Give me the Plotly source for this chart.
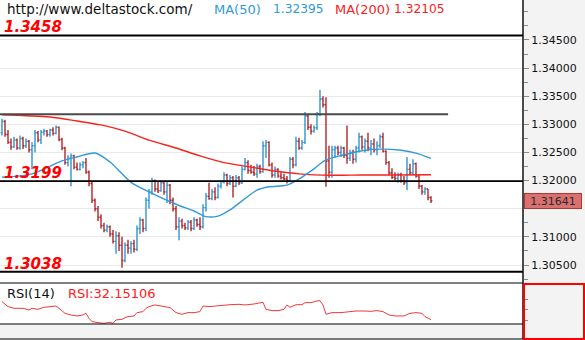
import plotly.graph_objects as go

W, H = 585, 340
PANE_R = 523  # px where the price pane ends and the axis strip begins

# ---- daily OHLC (open of each bar = previous close) ----
first_open = 1.3285
closes = [
    1.3305, 1.3282, 1.3268, 1.3260, 1.3272, 1.3258, 1.3275, 1.3262, 1.3270, 1.3255,
    1.3262, 1.3285, 1.3272, 1.3286, 1.3288, 1.3282, 1.3290, 1.3284, 1.3295, 1.3273,
    1.3258, 1.3232, 1.3240, 1.3244, 1.3224, 1.3220, 1.3228, 1.3232, 1.3215, 1.3195,
    1.3165, 1.3150, 1.3135, 1.3120, 1.3112, 1.3118, 1.3105, 1.3092, 1.3102, 1.3085,
    1.3058, 1.3085, 1.3080, 1.3088, 1.3078, 1.3115, 1.3130, 1.3115, 1.3165, 1.3180,
    1.3200, 1.3185, 1.3182, 1.3196, 1.3180, 1.3192, 1.3165, 1.3150, 1.3118, 1.3128,
    1.3120, 1.3116, 1.3126, 1.3115, 1.3130, 1.3122, 1.3118, 1.3152, 1.3172, 1.3168,
    1.3180, 1.3170, 1.3190, 1.3198, 1.3210, 1.3195, 1.3205, 1.3190, 1.3205, 1.3196,
    1.3220, 1.3232, 1.3218, 1.3215, 1.3212, 1.3225, 1.3216, 1.3262, 1.3268, 1.3228,
    1.3210, 1.3220, 1.3208, 1.3205, 1.3203, 1.3200, 1.3238, 1.3228, 1.3270, 1.3258,
    1.3268, 1.3315, 1.3295, 1.3288, 1.3294, 1.3318, 1.3345, 1.3335, 1.3235, 1.3215,
    1.3255, 1.3258, 1.3250, 1.3258, 1.3245, 1.3240, 1.3250, 1.3238, 1.3258, 1.3278,
    1.3260, 1.3270, 1.3258, 1.3265, 1.3255, 1.3262, 1.3278, 1.3252, 1.3232, 1.3214,
    1.3206, 1.3204, 1.3211, 1.3200, 1.3196, 1.3220, 1.3214, 1.3230, 1.3208, 1.3190,
    1.3180, 1.3185, 1.3170, 1.31641,
]
highs = [
    1.3310, 1.3308, 1.3290, 1.3275, 1.3278, 1.3275, 1.3280, 1.3278, 1.3275, 1.3272,
    1.3268, 1.3290, 1.3288, 1.3290, 1.3292, 1.3290, 1.3292, 1.3295, 1.3298, 1.3296,
    1.3276, 1.3260, 1.3245, 1.3248, 1.3246, 1.3232, 1.3232, 1.3235, 1.3240, 1.3218,
    1.3198, 1.3168, 1.3155, 1.3140, 1.3125, 1.3122, 1.3120, 1.3112, 1.3110, 1.3108,
    1.3100, 1.3090, 1.3095, 1.3092, 1.3095, 1.3120, 1.3135, 1.3132, 1.3170, 1.3185,
    1.3205, 1.3202, 1.3198, 1.3200, 1.3198, 1.3198, 1.3194, 1.3170, 1.3155, 1.3135,
    1.3132, 1.3125, 1.3130, 1.3130, 1.3135, 1.3132, 1.3135, 1.3158, 1.3178, 1.3196,
    1.3185, 1.3188, 1.3195, 1.3200, 1.3215, 1.3212, 1.3210, 1.3208, 1.3210, 1.3208,
    1.3225, 1.3240, 1.3236, 1.3228, 1.3226, 1.3230, 1.3228, 1.3270, 1.3272, 1.3270,
    1.3232, 1.3225, 1.3222, 1.3215, 1.3212, 1.3208, 1.3242, 1.3242, 1.3278, 1.3276,
    1.3272, 1.3322, 1.3318, 1.3300, 1.3298, 1.3322, 1.3361, 1.3350, 1.3348, 1.3262,
    1.3262, 1.3262, 1.3262, 1.3262, 1.3260, 1.3298, 1.3255, 1.3255, 1.3262, 1.3285,
    1.3280, 1.3275, 1.3285, 1.3272, 1.3275, 1.3270, 1.3282, 1.3285, 1.3254, 1.3235,
    1.3222, 1.3215, 1.3214, 1.3214, 1.3208, 1.3242, 1.3230, 1.3238, 1.3232, 1.3210,
    1.3192, 1.3188, 1.3185, 1.3172,
]
lows = [
    1.3280, 1.3278, 1.3265, 1.3255, 1.3258, 1.3255, 1.3255, 1.3256, 1.3258, 1.3250,
    1.3220, 1.3250, 1.3268, 1.3265, 1.3280, 1.3278, 1.3278, 1.3280, 1.3282, 1.3270,
    1.3254, 1.3228, 1.3225, 1.3190, 1.3220, 1.3218, 1.3218, 1.3222, 1.3212, 1.3190,
    1.3160, 1.3145, 1.3128, 1.3115, 1.3108, 1.3108, 1.3100, 1.3088, 1.3070, 1.3075,
    1.3045, 1.3055, 1.3070, 1.3070, 1.3072, 1.3075, 1.3105, 1.3108, 1.3110, 1.3150,
    1.3175, 1.3180, 1.3178, 1.3180, 1.3175, 1.3160, 1.3158, 1.3145, 1.3112, 1.3094,
    1.3115, 1.3112, 1.3112, 1.3110, 1.3112, 1.3118, 1.3112, 1.3115, 1.3145, 1.3166,
    1.3165, 1.3165, 1.3168, 1.3186, 1.3195, 1.3190, 1.3192, 1.3170, 1.3188, 1.3192,
    1.3194, 1.3218, 1.3212, 1.3212, 1.3208, 1.3205, 1.3212, 1.3214, 1.3240, 1.3225,
    1.3205, 1.3205, 1.3205, 1.3202, 1.3200, 1.3195, 1.3198, 1.3222, 1.3225, 1.3255,
    1.3255, 1.3265, 1.3290, 1.3282, 1.3285, 1.3290, 1.3315, 1.3330, 1.3189, 1.3205,
    1.3205, 1.3240, 1.3245, 1.3242, 1.3240, 1.3230, 1.3235, 1.3230, 1.3232, 1.3250,
    1.3255, 1.3250, 1.3252, 1.3245, 1.3250, 1.3245, 1.3258, 1.3250, 1.3228, 1.3210,
    1.3203, 1.3200, 1.3196, 1.3196, 1.3192, 1.3183, 1.3210, 1.3210, 1.3205, 1.3185,
    1.3175, 1.3175, 1.3165, 1.3160,
]
opens = [first_open] + closes[:-1]
bar_idx = list(range(len(closes)))

# ---- moving averages (sampled by bar index) ----
ma50_idx = [0, 10, 20, 25, 31, 36, 43, 49, 58, 64, 68, 72, 76, 85, 89, 95, 99,
            104, 108, 114, 121, 126, 133, 138, 143]
ma50_val = [1.3206, 1.3212, 1.3235, 1.3242, 1.3249, 1.3233, 1.3197, 1.3180, 1.3158,
            1.3146, 1.3136, 1.3137, 1.3148, 1.3183, 1.3189, 1.3192, 1.3203, 1.3221,
            1.3237, 1.3246, 1.3254, 1.3256, 1.3254, 1.3249, 1.32395]
ma200_idx = [0, 16, 25, 33, 41, 49, 58, 66, 74, 83, 91, 99, 110, 120, 130, 143]
ma200_val = [1.3317, 1.3313, 1.3306, 1.3299, 1.3288, 1.3272, 1.3258, 1.3244, 1.3232,
             1.3224, 1.3217, 1.3212, 1.32095, 1.3210, 1.3210, 1.32105]

# ---- RSI(14) ----
rsi_idx = [0, 2, 4, 7, 9, 10, 12, 14, 16, 18, 19, 21, 23, 25, 27, 28, 29, 30, 32, 34,
           36, 37, 38, 40, 41, 42, 44, 45, 47, 48, 49, 51, 53, 55, 56, 58, 60, 62, 64,
           66, 67, 69, 71, 74, 76, 79, 81, 84, 86, 87, 88, 90, 92, 94, 95, 96, 98, 100,
           101, 103, 105, 106, 107, 108, 110, 113, 116, 118, 121, 123, 125, 127, 129,
           131, 134, 136, 138, 140, 141, 142, 143]
rsi_val = [65.4, 56.2, 53.1, 53.1, 50.0, 53.1, 51.2, 55.0, 56.2, 57.4, 53.1, 43.8, 40.7,
           38.9, 40.7, 43.8, 34.6, 28.4, 26.5, 25.3, 27.2, 25.3, 31.5, 32.7, 35.8, 37.7,
           38.9, 45.1, 46.9, 53.1, 56.2, 59.3, 57.4, 56.2, 54.3, 45.1, 42.0, 45.1, 45.1,
           46.9, 57.4, 56.2, 57.4, 59.3, 59.8, 60.5, 59.3, 61.1, 62.3, 64.2, 51.2, 48.8,
           48.8, 51.2, 59.3, 55.0, 59.8, 59.8, 63.6, 63.6, 66.7, 67.3, 59.3, 42.0, 45.1,
           45.1, 46.9, 48.1, 48.1, 47.5, 48.8, 46.9, 40.7, 38.9, 38.9, 43.8, 45.1, 43.8,
           37.7, 34.6, 32.15106]

# ---- horizontal levels drawn on the price pane ----
level_vals = [1.3458, 1.3318, 1.3199, 1.3038]
level_labels = ["1.3458", "", "1.3199", "1.3038"]
level_end_bar = [None, 148.7, None, None]   # None = runs to the axis

# ---- axis ticks ----
price_ticks = [1.305, 1.310, 1.315, 1.320, 1.325, 1.330, 1.335, 1.340, 1.345]

BLUE_BAR = "#2f95d2"
RED_BAR = "#b0262a"
MA50_C = "#3399d6"
MA200_C = "#f5221e"
FONT = "DejaVu Sans"


def px_x(px):
    return px / W


def px_y(py):
    return 1 - py / H


fig = go.Figure()

fig.add_trace(go.Ohlc(
    x=bar_idx, open=opens, high=highs, low=lows, close=closes,
    increasing=dict(line=dict(color=BLUE_BAR, width=1.4)),
    decreasing=dict(line=dict(color=RED_BAR, width=1.4)),
    tickwidth=0.45, xaxis="x", yaxis="y", hoverinfo="skip",
))
fig.add_trace(go.Scatter(
    x=ma200_idx, y=ma200_val, mode="lines",
    line=dict(color=MA200_C, width=1.4, shape="spline", smoothing=0.8),
    xaxis="x", yaxis="y", hoverinfo="skip",
))
fig.add_trace(go.Scatter(
    x=ma50_idx, y=ma50_val, mode="lines",
    line=dict(color=MA50_C, width=1.4, shape="spline", smoothing=0.8),
    xaxis="x", yaxis="y", hoverinfo="skip",
))
fig.add_trace(go.Scatter(
    x=rsi_idx, y=rsi_val, mode="lines",
    line=dict(color="#f03a3a", width=1),
    xaxis="x2", yaxis="y2", hoverinfo="skip",
))

shapes = []
annotations = []

# level lines and their labels
for val, lab, end in zip(level_vals, level_labels, level_end_bar):
    if end is None:
        shapes.append(dict(type="line", xref="paper", yref="y", x0=0, x1=px_x(PANE_R),
                           y0=val, y1=val, line=dict(color="#000000", width=1.8), layer="above"))
    else:
        shapes.append(dict(type="line", xref="x", yref="y", x0=-0.7, x1=end,
                           y0=val, y1=val, line=dict(color="#4a4a4a", width=1.8), layer="above"))
    if lab:
        annotations.append(dict(
            text=lab, xref="paper", yref="y", x=px_x(2), y=val,
            xanchor="left", yanchor="bottom", showarrow=False, yshift=-3,
            font=dict(family=FONT, size=15, color="#ff0000", weight="bold", style="italic"),
        ))

# pane separators and frame
for py in (283, 324, 339):
    shapes.append(dict(type="line", xref="paper", yref="paper", x0=0, x1=px_x(PANE_R),
                       y0=px_y(py), y1=px_y(py), line=dict(color="#000000", width=1.2)))
shapes.append(dict(type="line", xref="paper", yref="paper", x0=px_x(PANE_R), x1=px_x(PANE_R),
                   y0=px_y(339), y1=1, line=dict(color="#000000", width=1.4)))
# indicator scale frame
shapes.append(dict(type="rect", xref="paper", yref="paper",
                   x0=px_x(PANE_R + 1), x1=px_x(584), y0=px_y(339), y1=px_y(284),
                   line=dict(color="#ff0000", width=2)))

# header line
header = [
    ("http://www.deltastock.com/", 5, "#111111", 13.5),
    ("MA(50)", 212, MA50_C, 13),
    (f"{ma50_val[-1]:.5f}", 271, MA50_C, 12.2),
    ("MA(200)", 333, MA200_C, 13),
    (f"{ma200_val[-1]:.5f}", 392, MA200_C, 12.2),
]
for txt, xpx, col, size in header:
    annotations.append(dict(text=txt, xref="paper", yref="paper", x=px_x(xpx), y=px_y(9),
                            xanchor="left", yanchor="middle", showarrow=False,
                            font=dict(family=FONT, size=size, color=col)))

# RSI header
annotations.append(dict(text="RSI(14)", xref="paper", yref="paper", x=px_x(5), y=px_y(293),
                        xanchor="left", yanchor="middle", showarrow=False,
                        font=dict(family=FONT, size=13, color="#111111")))
annotations.append(dict(text=f"RSI:{rsi_val[-1]:.5f}", xref="paper", yref="paper",
                        x=px_x(66), y=px_y(293), xanchor="left", yanchor="middle",
                        showarrow=False, font=dict(family=FONT, size=13, color="#ff2020")))

# last price tag on the axis (sits over the 1.31500 scale label)
last_price = closes[-1]
annotations.append(dict(text=f"{last_price:.5f}", xref="paper", yref="y",
                        x=px_x(PANE_R + 1), y=last_price, xanchor="left", yanchor="middle",
                        showarrow=False, bgcolor="#d97171", bordercolor="#b03535",
                        borderwidth=1, width=56, height=14, borderpad=0,
                        font=dict(family=FONT, size=11, color="#2a2a2a")))
tick_text = ["" if abs(t - last_price) < 0.002 else f"{t:.5f}" for t in price_ticks]

fig.update_layout(
    width=W, height=H, margin=dict(l=0, r=0, t=0, b=0),
    paper_bgcolor="#f3f3f3", plot_bgcolor="#ffffff", showlegend=False,
    xaxis=dict(domain=[0, px_x(PANE_R)], range=[-0.667, 173.67], visible=False,
               rangeslider=dict(visible=False), anchor="y"),
    yaxis=dict(domain=[px_y(283), 1], range=[1.3018, 1.35211], side="right",
               anchor="x", tickvals=price_ticks, ticktext=tick_text,
               ticks="outside", ticklen=5, tickcolor="#8a8a8a", tickwidth=1,
               minor=dict(dtick=0.0025, tick0=1.3, ticks="outside", ticklen=4,
                          tickcolor="#8a8a8a", showgrid=False),
               showgrid=True, gridcolor="#e9e9e9", gridwidth=1,
               zeroline=False, showline=False,
               tickfont=dict(family=FONT, size=11, color="#111111")),
    xaxis2=dict(domain=[0, px_x(PANE_R)], matches="x", visible=False, anchor="y2",
                rangeslider=dict(visible=False)),
    yaxis2=dict(domain=[px_y(324), px_y(283)], range=[24, 100], side="right",
                anchor="x2", tickvals=[30, 50, 70], showticklabels=False,
                ticks="outside", ticklen=4, tickcolor="#8a8a8a",
                showgrid=False, zeroline=False, showline=False),
    shapes=shapes, annotations=annotations,
)

fig.write_html("out.html")
